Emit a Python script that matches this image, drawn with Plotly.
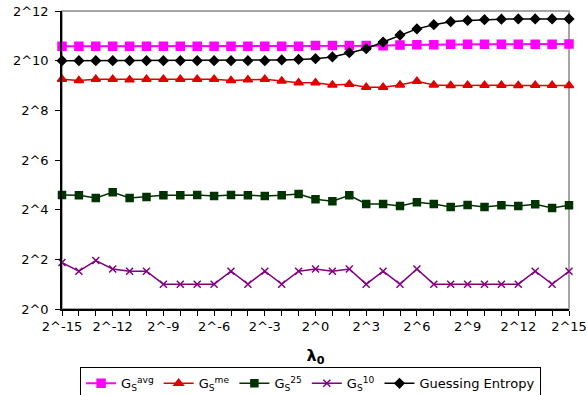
import plotly.graph_objects as go

# lambda_0 exponents (lambda_0 = 2^k)
lambda_exp = list(range(-15, 16))

# log2 of the guessing measures for each lambda_0
gs_avg = [10.58, 10.58, 10.58, 10.58, 10.58, 10.58, 10.58, 10.58, 10.58, 10.58,
          10.58, 10.58, 10.58, 10.58, 10.58, 10.61, 10.61, 10.61, 10.61, 10.60,
          10.63, 10.64, 10.64, 10.66, 10.66, 10.66, 10.66, 10.66, 10.66, 10.66, 10.67]
gs_me = [9.25, 9.20, 9.25, 9.25, 9.23, 9.25, 9.25, 9.25, 9.25, 9.25,
         9.20, 9.23, 9.25, 9.18, 9.11, 9.11, 9.02, 9.05, 8.93, 8.93,
         9.02, 9.17, 9.02, 9.00, 9.01, 9.01, 9.01, 9.00, 9.01, 9.01, 9.00]
gs_25 = [4.59, 4.58, 4.47, 4.70, 4.47, 4.51, 4.58, 4.58, 4.59, 4.55,
         4.59, 4.58, 4.55, 4.58, 4.63, 4.42, 4.34, 4.58, 4.23, 4.23,
         4.15, 4.30, 4.23, 4.11, 4.19, 4.11, 4.18, 4.15, 4.22, 4.07, 4.18]
gs_10 = [1.87, 1.52, 1.95, 1.61, 1.52, 1.52, 1.00, 1.00, 1.00, 1.00,
         1.52, 1.00, 1.52, 1.00, 1.52, 1.61, 1.52, 1.61, 1.00, 1.52,
         1.00, 1.61, 1.00, 1.00, 1.00, 1.00, 1.00, 1.00, 1.52, 1.00, 1.52]
guess_entropy = [10.00, 10.00, 10.00, 10.00, 10.00, 10.00, 10.00, 10.00, 10.00, 10.00,
                 10.00, 10.00, 10.00, 10.03, 10.05, 10.08, 10.15, 10.32, 10.48, 10.75,
                 11.03, 11.28, 11.45, 11.57, 11.62, 11.65, 11.67, 11.68, 11.68, 11.68, 11.68]

x_tick_vals = list(range(-15, 16, 3))
x_tick_text = [f"2^{k}" for k in x_tick_vals]
y_tick_vals = list(range(0, 13, 2))
y_tick_text = [f"2^{k}" for k in y_tick_vals]

series = [
    ("G<sub>S</sub><sup>avg</sup>", gs_avg, "#ff00ff", "square", 8, 2),
    ("G<sub>S</sub><sup>me</sup>", gs_me, "#e00000", "triangle-up", 8, 1.5),
    ("G<sub>S</sub><sup>25</sup>", gs_25, "#003300", "square", 7, 1.5),
    ("G<sub>S</sub><sup>10</sup>", gs_10, "#800080", "x-thin-open", 7, 1.5),
    ("Guessing Entropy", guess_entropy, "#000000", "diamond", 7, 1.5),
]

fig = go.Figure()
for name, vals, color, symbol, size, lw in series:
    fig.add_trace(go.Scatter(
        x=lambda_exp, y=vals, name=name, mode="lines+markers",
        line=dict(color=color, width=lw),
        marker=dict(symbol=symbol, size=size, color=color,
                    line=dict(color=color, width=1.5)),
        cliponaxis=False,
    ))

font = "DejaVu Sans, Verdana, sans-serif"

fig.update_layout(
    width=586, height=395,
    margin=dict(l=62, r=17, t=11, b=86, autoexpand=False),
    plot_bgcolor="white", paper_bgcolor="white",
    font=dict(family=font, size=13, color="#000000"),
    showlegend=True,
    legend=dict(
        orientation="h", xref="container", x=0.530, xanchor="center",
        yref="container", y=0.070, yanchor="top",
        bordercolor="#000000", borderwidth=1, bgcolor="white",
        font=dict(size=13), itemwidth=30, tracegroupgap=0,
    ),
    shapes=[dict(type="rect", xref="paper", yref="paper", x0=0, y0=0, x1=1, y1=1,
                 line=dict(color="#a6a6a6", width=2), layer="below")],
)
fig.update_xaxes(
    range=[-15, 15], tickmode="array", tickvals=x_tick_vals, ticktext=x_tick_text,
    ticks="outside", ticklen=5, tickcolor="#000000", showgrid=False, zeroline=False,
    showline=True, linecolor="#000000", linewidth=1.5, automargin=False,
    ticklabeloverflow="allow",
    minor=dict(dtick=1, tick0=0, ticks="outside", ticklen=5, tickcolor="#000000"),
    title=dict(text="<b>λ<sub>0</sub></b>", font=dict(size=16), standoff=18),
)
fig.update_yaxes(
    range=[0, 12], tickmode="array", tickvals=y_tick_vals, ticktext=y_tick_text,
    ticks="outside", ticklen=5, tickcolor="#000000", showgrid=False, zeroline=False,
    showline=True, linecolor="#000000", linewidth=1.5, ticklabelstandoff=4,
    automargin=False,
)

fig.write_html("out.html")
